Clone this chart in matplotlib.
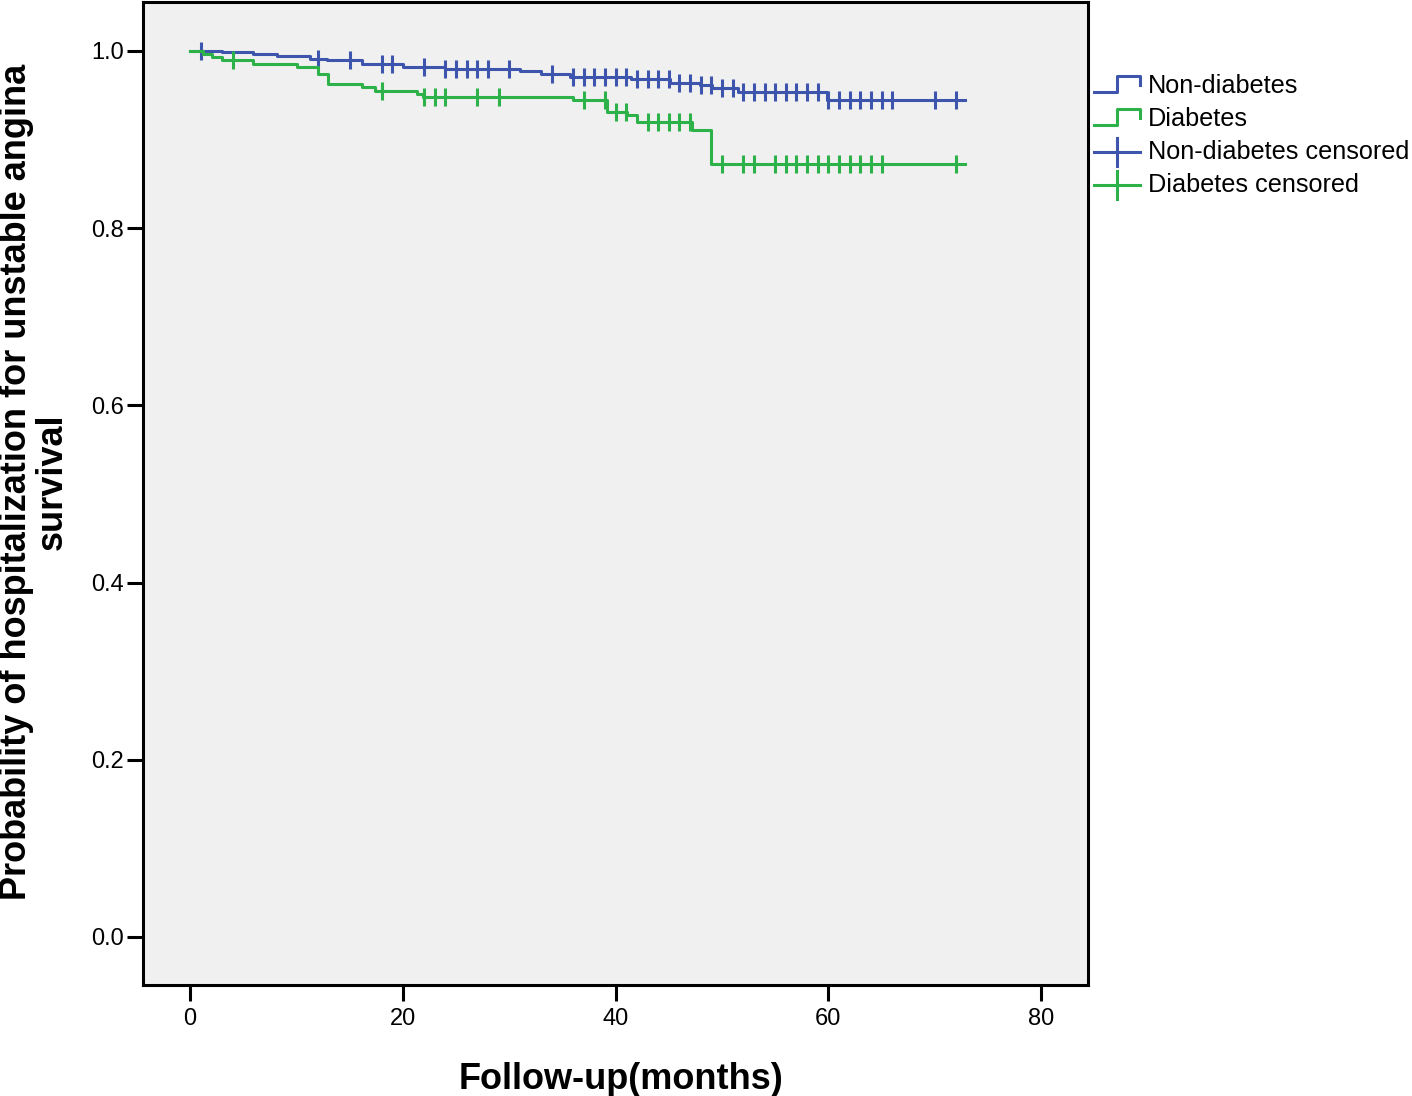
import numpy as np
import matplotlib
matplotlib.use("Agg")
import matplotlib.pyplot as plt
from matplotlib.lines import Line2D
from matplotlib.legend_handler import HandlerBase

plt.rcParams['font.family'] = ['Liberation Sans', 'DejaVu Sans']

# Kaplan-Meier steps
nd_t = [0, 3, 5.9, 8.2, 11.3, 12.9, 16.2, 20, 24, 31, 33, 35.7, 41.4, 45.1, 47.9, 49.1, 51.5, 59.9]
nd_s = [1.0, 0.9986, 0.9968, 0.9949, 0.9912, 0.9893, 0.9856, 0.9817, 0.9799, 0.9769,
        0.9743, 0.9712, 0.9686, 0.9637, 0.9611, 0.9580, 0.9535, 0.9449]
nd_cens = [1, 12, 15, 18, 19, 22, 24, 25, 26, 27, 28, 30, 34, 36, 37, 38, 39, 40, 41, 42,
           43, 44, 45, 46, 47, 48, 49, 50, 51, 52, 53, 54, 55, 56, 57, 58, 59, 60, 61, 62,
           63, 64, 65, 66, 70, 72]

d_t = [0, 1.2, 2.1, 3.0, 5.9, 10.1, 12.0, 13.0, 16.2, 17.4, 21.3, 21.9, 36.0, 39.2, 41.1,
       42.0, 47.2, 49.0]
d_s = [1.0, 0.9968, 0.9930, 0.9893, 0.9856, 0.9817, 0.9743, 0.9630, 0.9591, 0.9554, 0.9517,
       0.9480, 0.9443, 0.9311, 0.9272, 0.9197, 0.9103, 0.8727]
d_cens = [4, 18, 22, 23, 24, 27, 29, 37, 39, 40, 41, 43, 44, 45, 46, 47, 50, 52, 53, 55, 56,
          57, 58, 59, 60, 61, 62, 63, 64, 65, 72]

t_end = 72.8

blue = '#3D55AD'
green = '#2DB24A'
lw = 2.2


def km_at(times, surv, x):
    idx = np.searchsorted(times, x, side='right') - 1
    return np.asarray(surv)[idx]


class StepHandler(HandlerBase):
    def create_artists(self, legend, orig_handle, xdescent, ydescent, width, height, fontsize, trans):
        x = np.array([0, 0.5, 0.5, 1.0, 1.0]) * width - xdescent
        y = np.array([0.05, 0.05, 0.95, 0.95, 0.45]) * height - ydescent
        ln = Line2D(x, y, color=orig_handle.get_color(), lw=lw)
        ln.set_transform(trans)
        return [ln]


class CensHandler(HandlerBase):
    def create_artists(self, legend, orig_handle, xdescent, ydescent, width, height, fontsize, trans):
        yc = 0.4 * height - ydescent
        ln = Line2D([-xdescent, width - xdescent], [yc, yc], color=orig_handle.get_color(), lw=lw)
        tick = Line2D([0.5 * width - xdescent] * 2, [yc - 0.8 * height, yc + 0.8 * height],
                      color=orig_handle.get_color(), lw=lw)
        ln.set_transform(trans)
        tick.set_transform(trans)
        return [ln, tick]


fig = plt.figure(figsize=(14.12, 10.96), dpi=100)
ax = fig.add_axes([143 / 1412, 1 - 985 / 1096, (1088 - 143) / 1412, (985 - 2) / 1096])
ax.set_facecolor('#F0F0F0')

for t, s, c, cens in [(nd_t, nd_s, blue, nd_cens), (d_t, d_s, green, d_cens)]:
    tt = list(t) + [t_end]
    ss = list(s) + [s[-1]]
    ax.step(tt, ss, where='post', color=c, lw=lw)
    ax.plot(cens, km_at(t, s, cens), ls='none', marker='|', ms=13, mew=2.2, color=c)

ax.set_xlim(-4.42, 84.4)
ax.set_ylim(-0.0542, 1.0553)
ax.set_xticks([0, 20, 40, 60, 80])
ax.set_yticks([0.0, 0.2, 0.4, 0.6, 0.8, 1.0])
ax.set_yticklabels(['0.0', '0.2', '0.4', '0.6', '0.8', '1.0'])
ax.tick_params(labelsize=17, length=11.5, width=2.2, pad=2)
ax.tick_params(axis='x', pad=5)
for sp in ax.spines.values():
    sp.set_linewidth(2.2)

ax.set_xlabel('Follow-up(months)', fontsize=26, fontweight='bold')
ax.xaxis.set_label_coords(0.506, -0.078, transform=ax.transAxes)
ax.set_ylabel('Probability of hospitalization for unstable angina\nsurvival',
              fontsize=26, fontweight='bold', linespacing=1.0)
ax.yaxis.set_label_coords(-0.078, 0.512, transform=ax.transAxes)

h1 = Line2D([], [], color=blue)
h2 = Line2D([], [], color=green)
h3 = Line2D([], [], color=blue, marker='|')
h4 = Line2D([], [], color=green, marker='|')
fig.legend([h1, h2, h3, h4],
           ['Non-diabetes', 'Diabetes', 'Non-diabetes censored', 'Diabetes censored'],
           handler_map={h1: StepHandler(), h2: StepHandler(), h3: CensHandler(), h4: CensHandler()},
           loc='upper left', bbox_to_anchor=(1094 / 1412, 1 - 74 / 1096), frameon=False,
           fontsize=18.2, handlelength=1.83, handletextpad=0.3, labelspacing=0.36,
           borderaxespad=0, borderpad=0)

fig.savefig('out.png', dpi=100)
